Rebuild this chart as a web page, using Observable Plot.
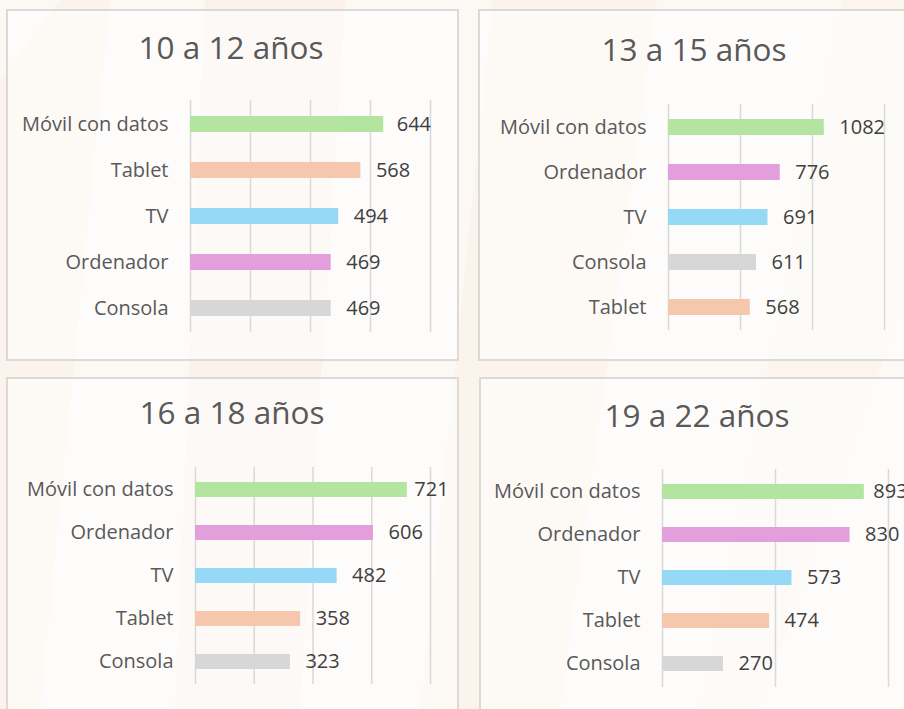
<!DOCTYPE html>
<html>
<head>
<meta charset="utf-8">
<script src="https://cdn.jsdelivr.net/npm/d3@7"></script>
<script src="https://cdn.jsdelivr.net/npm/@observablehq/plot@0.6"></script>
<style>
  html, body { margin: 0; padding: 0; }
  body { width: 904px; height: 709px; overflow: hidden; position: relative;
         background: #fcf8f3; font-family: "Open Sans", sans-serif; }
  .stripe { position: absolute; left: 0; top: 0; width: 904px; height: 709px; background: #f9f0e6; }
  .panel { position: absolute; box-sizing: border-box; border: 2px solid #dcdad8;
           background: rgba(255,255,255,0.55); }
  .title { position: absolute; text-align: center; font-size: 31.5px; line-height: 30px;
           color: #595959; white-space: nowrap; }
  .chart { position: absolute; }
  .chart svg { overflow: visible; max-width: none !important; display: block; }
</style>
</head>
<body>
<div class="stripe" style="clip-path: polygon(205px 0, 345px 0, 300px 709px, 175px 709px); opacity:0.7"></div>
<div class="stripe" style="clip-path: polygon(493px 0, 657px 0, 560px 709px, 420px 709px); opacity:0.5"></div>
<div class="stripe" style="clip-path: polygon(0 80px, 60px 0, 110px 0, 40px 709px, 0 709px); opacity:0.5"></div>
<div class="stripe" style="clip-path: polygon(842px 0, 904px 0, 904px 300px, 760px 709px, 700px 709px); opacity:0.4"></div>
<div id="root"></div>
<script>
// ---- Data ----
const grupos = ["10 a 12 años", "13 a 15 años", "16 a 18 años", "19 a 22 años"];

const categorias1 = ["Móvil con datos", "Tablet", "TV", "Ordenador", "Consola"];
const valores1 = [644, 568, 494, 469, 469];
const ticks1 = [0, 200, 400, 600, 800];

const categorias2 = ["Móvil con datos", "Ordenador", "TV", "Consola", "Tablet"];
const valores2 = [1082, 776, 691, 611, 568];
const ticks2 = [0, 500, 1000, 1500];

const categorias3 = ["Móvil con datos", "Ordenador", "TV", "Tablet", "Consola"];
const valores3 = [721, 606, 482, 358, 323];
const ticks3 = [0, 200, 400, 600, 800];

const categorias4 = ["Móvil con datos", "Ordenador", "TV", "Tablet", "Consola"];
const valores4 = [893, 830, 573, 474, 270];
const ticks4 = [0, 500, 1000];

const colores = {
  "Móvil con datos": "#b3e5a1",
  "Tablet": "#f5c7ad",
  "TV": "#95d9f6",
  "Ordenador": "#e39fdc",
  "Consola": "#d7d7d7"
};

// ---- Layout (label offset for the top bar's label in each panel: dxTop) ----
const layout = [
  {box: [6, 9, 453, 352], svg: [7, 10, 452, 350], m: [90, 29, 28, 183], title: [7, 32, 448], dxTop: 13},
  {box: [478, 9, 440, 352], svg: [478, 10, 430, 350], m: [94, 24, 30, 190], title: [478, 34, 432], dxTop: 15},
  {box: [6, 377, 453, 400], svg: [7, 378, 452, 340], m: [89, 29, 34, 188], title: [7, 397, 450], dxTop: 7},
  {box: [479, 377, 440, 400], svg: [480, 378, 430, 340], m: [91, 22, 31, 182], title: [480, 400, 434], dxTop: 9}
];

const series = [
  [categorias1, valores1, ticks1],
  [categorias2, valores2, ticks2],
  [categorias3, valores3, ticks3],
  [categorias4, valores4, ticks4]
];

const root = document.getElementById("root");

series.forEach(([cats, vals, ticks], i) => {
  const L = layout[i];
  const box = document.createElement("div");
  box.className = "panel";
  Object.assign(box.style, {left: L.box[0] + "px", top: L.box[1] + "px", width: L.box[2] + "px", height: L.box[3] + "px"});
  root.appendChild(box);

  const data = cats.map((c, j) => ({categoria: c, valor: vals[j]}));
  const topRow = data.slice(0, 1);
  const rest = data.slice(1);
  const textOpts = (dx) => ({x: "valor", y: "categoria", text: d => String(d.valor), dx,
                             textAnchor: "start", fill: "#404040", fontSize: 20});
  const chart = Plot.plot({
    width: L.svg[2],
    height: L.svg[3],
    marginTop: L.m[0], marginRight: L.m[1], marginBottom: L.m[2], marginLeft: L.m[3],
    style: {background: "transparent", fontFamily: "'Open Sans', sans-serif", overflow: "visible", maxWidth: "none"},
    x: {domain: [ticks[0], ticks[ticks.length - 1]], axis: null},
    y: {domain: cats, paddingInner: 0.65, paddingOuter: 0.325, label: null},
    color: {type: "identity"},
    marks: [
      Plot.gridX(ticks, {stroke: "#d9d9d9", strokeOpacity: 1, strokeWidth: 1.5}),
      Plot.barX(data, {x: "valor", y: "categoria", fill: d => colores[d.categoria]}),
      Plot.text(topRow, textOpts(L.dxTop)),
      Plot.text(rest, textOpts(15)),
      Plot.axisY({tickSize: 0, tickPadding: 22, fontSize: 20, fill: "#595959", label: null})
    ]
  });
  const wrap = document.createElement("div");
  wrap.className = "chart";
  Object.assign(wrap.style, {left: L.svg[0] + "px", top: L.svg[1] + "px", width: L.svg[2] + "px", height: L.svg[3] + "px"});
  wrap.appendChild(chart);
  root.appendChild(wrap);

  const t = document.createElement("div");
  t.className = "title";
  t.textContent = grupos[i];
  Object.assign(t.style, {left: L.title[0] + "px", top: L.title[1] + "px", width: L.title[2] + "px"});
  root.appendChild(t);
});
</script>
</body>
</html>
